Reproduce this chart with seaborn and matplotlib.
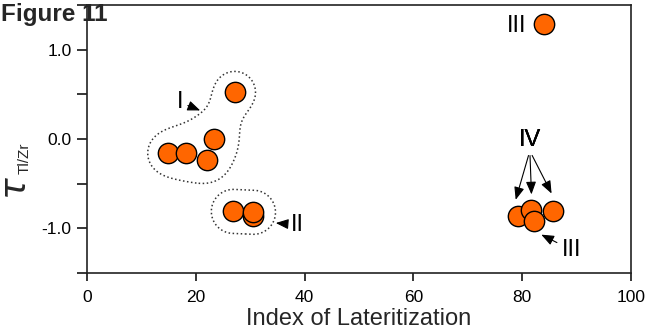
import numpy as np
import pandas as pd
import seaborn as sns
import matplotlib.pyplot as plt

# values
grp_I_x = [14.8, 18.2, 22.1, 23.3, 27.2]
grp_I_y = [-0.16, -0.16, -0.24, 0.00, 0.53]
grp_II_x = [30.6, 26.9, 30.6]
grp_II_y = [-0.86, -0.81, -0.82]
grp_IV_x = [79.2, 81.7, 85.6]
grp_IV_y = [-0.86, -0.79, -0.80]
grp_III_x = [84.0, 82.2]
grp_III_y = [1.29, -0.92]

x_ticks = [0, 20, 40, 60, 80, 100]
y_ticks = [-1.5, -1.0, -0.5, 0.0, 0.5, 1.0, 1.5]
y_ticklabels = ["", "-1.0", "", "0.0", "", "1.0", ""]

df = pd.DataFrame({
    "x": grp_I_x + grp_II_x + grp_IV_x + grp_III_x,
    "y": grp_I_y + grp_II_y + grp_IV_y + grp_III_y,
})

sns.set_style("ticks")
plt.rcParams["font.family"] = ["Liberation Sans", "DejaVu Sans"]

fig = plt.figure(figsize=(6.47, 3.33), dpi=100)
ax = fig.add_axes([0.1345, 0.18, 0.8408, 0.805])

XL, YL = (0, 100), (-1.5, 1.5)
ax.set_xlim(*XL)
ax.set_ylim(*YL)

# dotted outlines round groups I and II, worked out in pixel units
sx = 0.8408 * 647 / (XL[1] - XL[0])
sy = 0.805 * 333 / (YL[1] - YL[0])
gx, gy = np.meshgrid(np.linspace(0, 60, 700), np.linspace(-1.5, 1.2, 600))
qx, qy = gx * sx, gy * sy


def seg_dist(px, py):
    d = np.full(gx.shape, np.inf)
    for i in range(len(px) - 1):
        ax0, ay0 = px[i] * sx, py[i] * sy
        vx, vy = px[i + 1] * sx - ax0, py[i + 1] * sy - ay0
        t = ((qx - ax0) * vx + (qy - ay0) * vy) / max(vx * vx + vy * vy, 1e-9)
        t = np.clip(t, 0, 1)
        d = np.minimum(d, np.hypot(qx - ax0 - t * vx, qy - ay0 - t * vy))
    return d


def blob(px, py, r):
    # metaball field, sum of r^2/d^2
    f = np.zeros(gx.shape)
    for x, y in zip(px, py):
        f += r * r / np.maximum((qx - x * sx) ** 2 + (qy - y * sy) ** 2, 1e-6)
    return f


# group I: metaballs plus a bridge toward the upper point
field_I = blob(grp_I_x, grp_I_y, 16) + 100 / np.maximum(seg_dist(grp_I_x[3:], grp_I_y[3:]) ** 2, 1e-6)
ax.contour(gx, gy, field_I, levels=[1.0],
           colors="#333333", linestyles=":", linewidths=1.1)
ax.contour(gx, gy, seg_dist(grp_II_x[1:], grp_II_y[1:]), levels=[22],
           colors="#333333", linestyles=":", linewidths=1.1)

sns.scatterplot(data=df, x="x", y="y", ax=ax, s=215, color="#FF6600",
                edgecolor="black", linewidth=1.0, zorder=3, legend=False)

arr = dict(arrowstyle="-|>,head_length=0.45,head_width=0.18", lw=0.8,
           color="black", shrinkA=1, shrinkB=0)
lab = dict(fontsize=17, ha="center", va="center", color="black")

ax.annotate("I", xy=(20.8, 0.32), xytext=(17.1, 0.41), arrowprops=arr, **lab)
ax.annotate("II", xy=(34.7, -0.94), xytext=(38.6, -0.96), arrowprops=arr, **lab)
ax.text(78.9, 1.27, "III", **lab)
ax.annotate("III", xy=(83.5, -1.07), xytext=(89.0, -1.24), arrowprops=arr, **lab)
for hx, hy in [(78.8, -0.68), (81.7, -0.62), (85.4, -0.61)]:
    ax.annotate("IV", xy=(hx, hy), xytext=(81.4, -0.01),
                arrowprops=dict(arr, relpos=(0.5, 0.0)), **lab)

ax.set_xticks(x_ticks)
ax.set_yticks(y_ticks)
ax.set_yticklabels(y_ticklabels)
ax.tick_params(axis="y", direction="out", length=7, width=1.1, labelsize=12.5,
               colors="black", pad=4)
ax.tick_params(axis="x", direction="out", length=6, width=1.1, labelsize=12.5,
               colors="black", pad=6)
for sp in ax.spines.values():
    sp.set_visible(True)
    sp.set_linewidth(1.2)
    sp.set_color("#222222")

ax.set_xlabel("Index of Lateritization", fontsize=17, labelpad=2)
ax.set_ylabel("")

fig.text(17 / 647, 1 - 188 / 333, r"$\tau$", fontsize=26, rotation=90,
         ha="center", va="center")
fig.text(25 / 647, 1 - 158 / 333, "Tl/Zr", fontsize=11, rotation=90,
         ha="center", va="center")
fig.text(1 / 647, 1 - 15 / 333, "Figure 11", fontsize=17.5, fontweight="bold",
         ha="left", va="center")

fig.savefig("out.png", dpi=100)
